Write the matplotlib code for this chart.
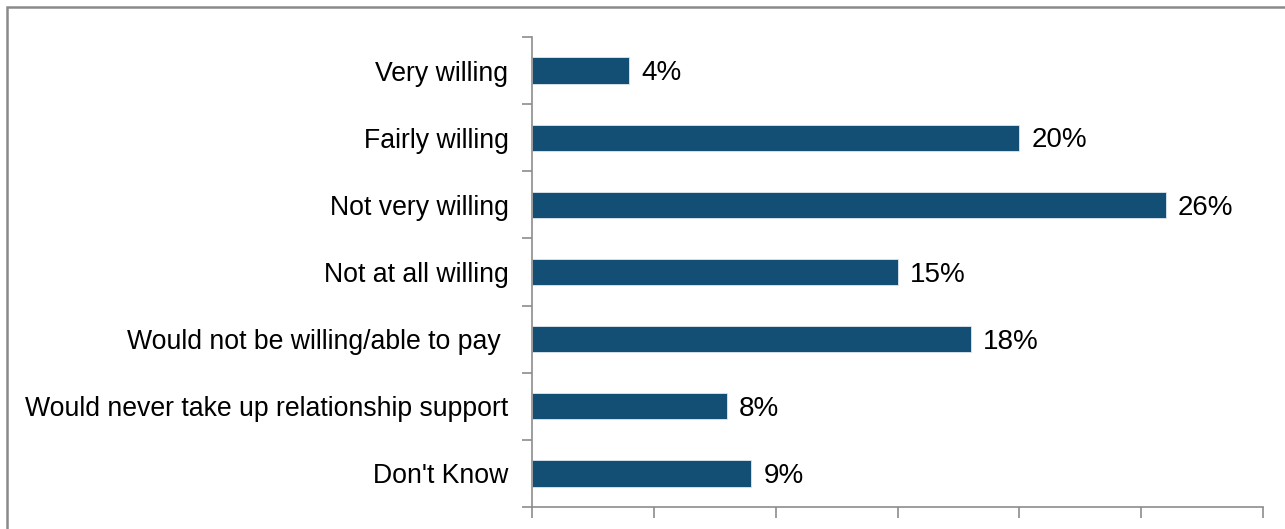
import matplotlib.pyplot as plt
from matplotlib.patches import Rectangle
import numpy as np

plt.rcParams['font.family'] = ['Liberation Sans', 'DejaVu Sans']

categories = ['Very willing', 'Fairly willing', 'Not very willing', 'Not at all willing',
              'Would not be willing/able to pay ', 'Would never take up relationship support',
              "Don't Know"]
values = [4, 20, 26, 15, 18, 8, 9]

barColor = '#134f74'
axisColor = '#8c8c8c'

fig = plt.figure(figsize=(12.85, 5.29), dpi=100)
ax = fig.add_axes([532/1285, 1-507/529, (1263-532)/1285, (507-37)/529])

n = len(categories)
ypos = np.arange(n)
ax.barh(ypos, values, height=0.39, color=barColor, edgecolor='#dfe8ef', linewidth=0.6)
for yy, vv in zip(ypos, values):
    ax.text(vv + 0.5, yy + 0.04, str(vv) + '%', va='center', ha='left', fontsize=20, color='black')

ax.set_ylim(n - 0.5, -0.5)
ax.set_xlim(0, 30)

# category labels sit between the boundary ticks
ax.set_yticks(np.arange(n + 1) - 0.5)
ax.set_yticklabels([])
ax.set_yticks(ypos, minor=True)
ax.set_yticklabels(categories, minor=True, fontsize=19.2)
ax.tick_params(axis='y', which='minor', length=0, pad=17)
ax.tick_params(axis='y', which='major', length=7, width=1.2, color=axisColor, direction='out')

ax.set_xticks(np.arange(0, 31, 5))
ax.set_xticklabels([])
ax.tick_params(axis='x', length=8, width=1.2, color=axisColor, direction='out')

for side in ['top', 'right']:
    ax.spines[side].set_visible(False)
for side in ['left', 'bottom']:
    ax.spines[side].set_color(axisColor)
    ax.spines[side].set_linewidth(1.2)

# outer frame, runs off the right and bottom edges
frame = Rectangle((7/1285, -0.1), 1.2, 1 - 7/529 + 0.1, transform=fig.transFigure,
                  fill=False, edgecolor='#8a8a8a', linewidth=1.8)
fig.patches.append(frame)

fig.savefig('out.png', dpi=100)
